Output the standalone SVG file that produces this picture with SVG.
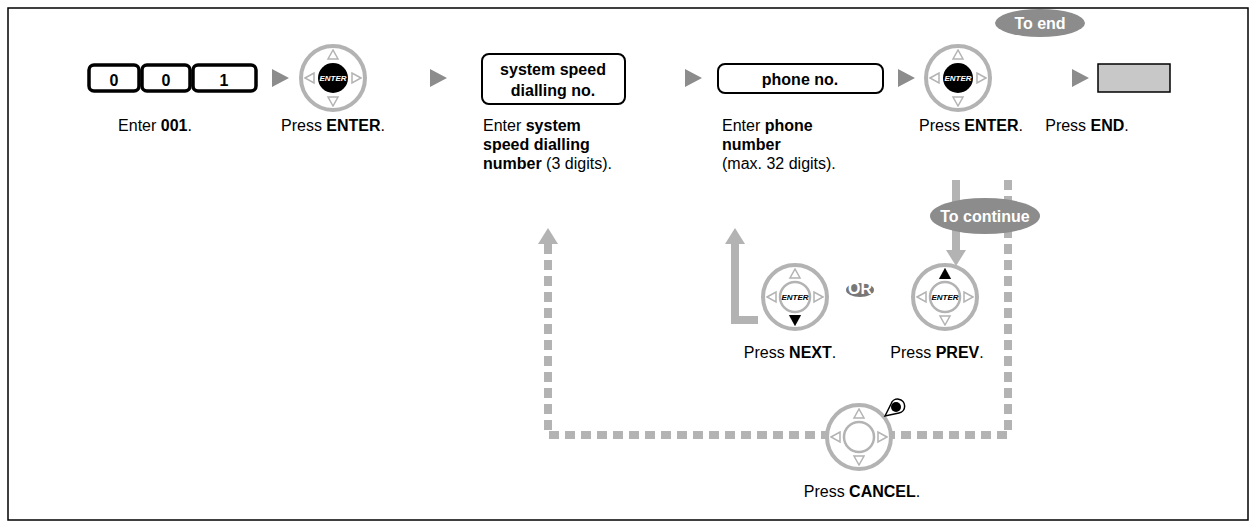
<svg xmlns="http://www.w3.org/2000/svg" width="1257" height="528" viewBox="0 0 1257 528">
<style>
text{font-family:"Liberation Sans",Arial,sans-serif;font-size:16px;fill:#000}
.b{font-weight:bold}
.key{fill:#fff;stroke:#000;stroke-width:3.5}
.ring{fill:#fff;stroke:#b3b3b3;stroke-width:4}
.tri{fill:#fff;stroke:#b3b3b3;stroke-width:1.5}
.arr{fill:#8c8c8c}
.gl{stroke:#b3b3b3;stroke-width:8;fill:none}
.dash{stroke:#b3b3b3;stroke-width:8;fill:none;stroke-dasharray:10 6}
.et{font-size:8px;font-style:italic;font-weight:bold}
</style>
<defs>
<g id="dial">
<circle r="32" class="ring"/>
<path class="tri" d="M0,-28 l-5,9 h10z M0,28 l-5,-9 h10z M-28,0 l9,-5 v10z M28,0 l-9,-5 v10z"/>
</g>
</defs>
<rect x="8" y="8" width="1240" height="512" fill="#fff" stroke="#000" stroke-width="1.5"/>
<g id="connectors">
<path class="arr" d="M272,69 l17,9 l-17,9z M430,69 l17,9 l-17,9z M685,69 l17,9 l-17,9z M898,69 l17,9 l-17,9z M1072,69 l17,9 l-17,9z"/>
<path class="gl" d="M956,180 V252"/>
<path d="M946,250 l10,16 l10,-16z" fill="#b3b3b3"/>
<path class="dash" d="M1008,180 V435 H548 V244"/>
<path d="M538,244 l10,-16 l10,16z" fill="#b3b3b3"/>
<path class="gl" d="M758,320 H735 V240"/>
<path d="M725,244 l10,-16 l10,16z" fill="#b3b3b3"/>
</g>
<g id="n001">
<rect class="key" x="89" y="65" width="50" height="26" rx="5"/>
<rect class="key" x="142" y="65" width="48" height="26" rx="5"/>
<rect class="key" x="193" y="65" width="63" height="26" rx="5"/>
<text class="b" x="114" y="86" text-anchor="middle" font-size="22">0</text>
<text class="b" x="166" y="86" text-anchor="middle" font-size="22">0</text>
<text class="b" x="224" y="86" text-anchor="middle" font-size="22">1</text>
<text x="155" y="131" text-anchor="middle">Enter <tspan class="b">001</tspan>.</text>
</g>
<g id="enter1">
<use href="#dial" x="333" y="78"/>
<circle cx="333" cy="78" r="15" fill="#000"/>
<text class="et" x="333" y="81" text-anchor="middle" style="fill:#fff">ENTER</text>
<text x="333" y="131" text-anchor="middle">Press <tspan class="b">ENTER</tspan>.</text>
</g>
<g id="ssd">
<rect x="482" y="54" width="143" height="50" rx="7" fill="#fff" stroke="#000" stroke-width="2"/>
<text class="b" x="553" y="75" text-anchor="middle" font-size="17">system speed</text>
<text class="b" x="553" y="96" text-anchor="middle" font-size="17">dialling no.</text>
<text x="483" y="131">Enter <tspan class="b">system</tspan></text>
<text class="b" x="483" y="150">speed dialling</text>
<text x="483" y="169"><tspan class="b">number</tspan> (3 digits).</text>
</g>
<g id="phone">
<rect x="718" y="64" width="165" height="29" rx="7" fill="#fff" stroke="#000" stroke-width="2"/>
<text class="b" x="800" y="85" text-anchor="middle" font-size="17">phone no.</text>
<text x="722" y="131">Enter <tspan class="b">phone</tspan></text>
<text class="b" x="722" y="150">number</text>
<text x="722" y="169">(max. 32 digits).</text>
</g>
<g id="enter2">
<use href="#dial" x="958" y="78"/>
<circle cx="958" cy="78" r="15" fill="#000"/>
<text class="et" x="958" y="81" text-anchor="middle" style="fill:#fff">ENTER</text>
<text x="971" y="131" text-anchor="middle">Press <tspan class="b">ENTER</tspan>.</text>
</g>
<g id="toend">
<ellipse cx="1040" cy="23" rx="45" ry="14" fill="#8c8c8c"/>
<text class="b" x="1040" y="29" text-anchor="middle" style="fill:#fff">To end</text>
</g>
<g id="end">
<rect x="1098" y="64" width="72" height="28" fill="#c8c8c8" stroke="#000" stroke-width="1.5"/>
<text x="1087" y="131" text-anchor="middle">Press <tspan class="b">END</tspan>.</text>
</g>
<g id="tocontinue">
<ellipse cx="985" cy="216" rx="55" ry="18" fill="#8c8c8c"/>
<text class="b" x="985" y="222" text-anchor="middle" style="fill:#fff">To continue</text>
</g>
<g id="next">
<use href="#dial" x="795" y="297"/>
<circle cx="795" cy="297" r="15" fill="#fff" stroke="#b3b3b3" stroke-width="2.5"/>
<text class="et" x="795" y="300" text-anchor="middle">ENTER</text>
<path d="M789,315 h12 l-6,11z" fill="#000"/>
<text x="790" y="358" text-anchor="middle">Press <tspan class="b">NEXT</tspan>.</text>
</g>
<g id="or">
<ellipse cx="860" cy="290" rx="14" ry="7" fill="#777"/>
<text class="b" x="860" y="294" text-anchor="middle" font-size="9" style="fill:#fff">OR</text>
</g>
<g id="prev">
<use href="#dial" x="945" y="297"/>
<circle cx="945" cy="297" r="15" fill="#fff" stroke="#b3b3b3" stroke-width="2.5"/>
<text class="et" x="945" y="300" text-anchor="middle">ENTER</text>
<path d="M939,279 h12 l-6,-11z" fill="#000"/>
<text x="937" y="358" text-anchor="middle">Press <tspan class="b">PREV</tspan>.</text>
</g>
<g id="cancel">
<use href="#dial" x="859" y="437"/>
<circle cx="859" cy="437" r="15" fill="#fff" stroke="#b3b3b3" stroke-width="2.5"/>
<path d="M885,416 l6,-12 a7,7 0 1 1 8,9z" fill="#fff" stroke="#000" stroke-width="1.5"/>
<circle cx="896" cy="407" r="5" fill="#000"/>
<text x="862" y="497" text-anchor="middle">Press <tspan class="b">CANCEL</tspan>.</text>
</g>
</svg>
